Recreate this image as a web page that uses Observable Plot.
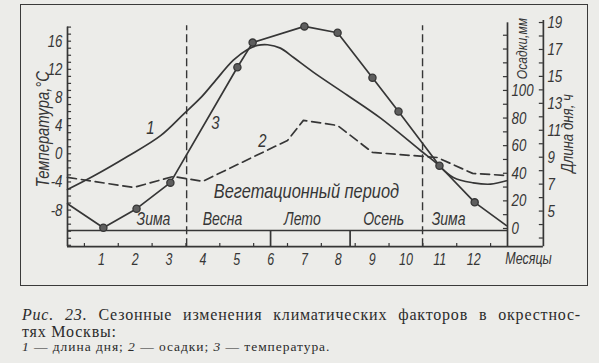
<!DOCTYPE html>
<html><head><meta charset="utf-8">
<script src="https://cdn.jsdelivr.net/npm/d3@7"></script>
<script src="https://cdn.jsdelivr.net/npm/@observablehq/plot@0.6"></script>
<style>
html,body{margin:0;padding:0;background:#ecece9;}
#wrap{position:relative;width:599px;height:363px;overflow:hidden;background:#ecece9;}
#chart{position:absolute;left:0;top:0;}
#frame{position:absolute;left:20px;top:4px;width:568px;height:282px;border:1.5px solid #3a3a3a;box-sizing:border-box;pointer-events:none;}
.cap{position:absolute;left:22px;font-family:"Liberation Serif","DejaVu Serif",serif;color:#2b2b2b;white-space:nowrap;}
#c1{top:306.6px;width:559px;font-size:16px;line-height:16px;letter-spacing:0.8px;text-align:justify;text-align-last:justify;white-space:normal;}
#c2{top:323.6px;font-size:16px;line-height:16px;letter-spacing:0.8px;}
#c3{top:339.8px;font-size:13.5px;line-height:13.5px;letter-spacing:0.95px;}
</style></head><body>
<div id="wrap">
<div id="chart"></div>
<div id="frame"></div>
<div class="cap" id="c1"><i>Рис. 23.</i> Сезонные изменения климатических факторов в окрестнос-</div>
<div class="cap" id="c2">тях Москвы:</div>
<div class="cap" id="c3"><i>1</i> — длина дня; <i>2</i> — осадки; <i>3</i> — температура.</div>
</div>
<script>
// ---- data (x = position along the month axis, month m centred at m) ----
const months = [1,2,3,4,5,6,7,8,9,10,11,12];
const monthLabels = ["1","2","3","4","5","6","7","8","9","10","11","12"];

// 3 — temperature, °C
const tempX = [0, 1.06, 2.04, 3.04, 5.02, 5.47, 7.0, 7.98, 9.01, 9.78, 10.99, 12.03, 12.97];
const tempC = [-7.1, -10.5, -7.8, -4.1, 12.3, 15.8, 18.1, 17.2, 10.8, 6.0, -1.7, -6.9, -10.2];
const tempDot = [0,1,1,1,1,1,1,1,1,1,1,1,0];

// 1 — day length, h
const dayX = [0, 0.77, 1.77, 2.75, 3.43, 3.93, 4.31, 4.9, 5.32, 5.61, 5.91, 6.29, 6.68, 7.27, 8.27, 9.25, 10.43, 10.81, 11.4, 11.99, 12.5, 12.97];
const dayH = [6.6, 7.6, 9.05, 10.6, 12.2, 13.4, 14.5, 16.2, 17.0, 17.3, 17.35, 17.1, 16.4, 15.3, 13.6, 11.9, 9.5, 8.75, 7.5, 7.1, 7.0, 7.25];

// 2 — precipitation, mm
const precX = [0, 1.95, 3.13, 3.99, 6.5, 6.97, 7.98, 9.01, 10.93, 11.97, 12.97];
const precMM = [37, 29.7, 37.7, 34.1, 63.8, 78.3, 74.6, 55.1, 51.4, 39.9, 38.4];

// axes
const tempTicks = [16, 12, 8, 4, 0, -4, -8];
const precTicks = [0, 20, 40, 60, 80, 100];
const dayTicks = [5, 7, 9, 11, 13, 15, 17, 19];

// seasons
const seasonNames = ["Зима", "Весна", "Лето", "Осень", "Зима"];
const seasonAt = [2.54, 4.58, 6.94, 9.34, 11.26];
const seasonBreaks = [6.0, 8.35];
const vegBreaks = [3.52, 10.49];

// ---- secondary axes expressed on the temperature scale ----
const precY = p => -10.61 + 0.1961 * p;
const dayY = h => -8.14 + 1.9136 * (h - 5);

const ink = "#363636";
const sw = 1.7;
const font = '"Liberation Sans","DejaVu Sans",sans-serif';
const yMin = -13.2, yMax = 18;
const xDay = 14.06, xPrec = 13;
const bandTop = -10.9;
const tk = 0.12;

const temp = tempX.map((x, i) => ({x, y: tempC[i], dot: tempDot[i]}));
const day = dayX.map((x, i) => ({x, y: dayY(dayH[i])}));
const prec = precX.map((x, i) => ({x, y: precY(precMM[i])}));

const T = {fill: ink, fontStyle: "italic"};

const chart = Plot.plot({
  width: 599, height: 290,
  marginLeft: 67, marginRight: 92, marginTop: 26.6, marginBottom: 43.8,
  x: {domain: [0, 13]},
  y: {domain: [yMin, yMax]},
  style: {background: "transparent", fontFamily: font, fontStyle: "italic", fontSize: "15px", color: ink, overflow: "visible"},
  marks: [
    Plot.ruleX([0], {y1: yMin, y2: yMax, stroke: ink, strokeWidth: sw}),
    Plot.ruleX([xPrec], {y1: yMin, y2: precY(149), stroke: ink, strokeWidth: sw}),
    Plot.ruleX([xDay], {y1: yMin, y2: dayY(19.15), stroke: ink, strokeWidth: sw}),
    Plot.ruleY([yMin], {x1: 0, x2: xDay, stroke: ink, strokeWidth: sw}),
    Plot.ruleY([bandTop], {x1: 0, x2: xPrec, stroke: ink, strokeWidth: sw}),
    Plot.ruleX(seasonBreaks, {y1: yMin, y2: bandTop, stroke: ink, strokeWidth: sw}),
    Plot.ruleX(vegBreaks, {y1: yMin, y2: 18.2, stroke: ink, strokeWidth: 1.4, strokeDasharray: "8,4"}),
    Plot.ruleY(d3.range(-13, 19), {x1: 0, x2: tk, stroke: ink, strokeWidth: 1.2}),
    Plot.ruleY(d3.range(0, 150, 10).map(precY), {x1: xPrec - tk, x2: xPrec, stroke: ink, strokeWidth: 1.2}),
    Plot.ruleY(d3.range(3, 20).map(dayY), {x1: xDay - tk, x2: xDay, stroke: ink, strokeWidth: 1.2}),
    Plot.ruleX(d3.range(0.5, 13, 1), {y1: yMin, y2: yMin + 0.45, stroke: ink, strokeWidth: 1.2}),
    Plot.axisY(tempTicks, {anchor: "left", tickSize: 0, tickPadding: 5, tickFormat: d => String(d), label: null, fontSize: 17, fill: ink}),
    Plot.axisX(months, {anchor: "bottom", tickSize: 0, tickPadding: 7, tickFormat: (d, i) => monthLabels[i], label: null, fontSize: 16, fill: ink}),
    Plot.text(precTicks, {x: xPrec, y: precY, text: d => String(d), textAnchor: "start", dx: 4, fontSize: 17, ...T}),
    Plot.text(dayTicks, {x: xDay, y: dayY, text: d => String(d), textAnchor: "start", dx: 4, fontSize: 17, ...T}),
    Plot.text(["Месяцы"], {x: 13.62, y: yMin, dy: 12, fontSize: 16, ...T}),
    Plot.text(["Температура,°С"], {x: -0.74, y: 3.5, rotate: -90, fontSize: 19, ...T}),
    Plot.text(["Осадки,мм"], {x: 13.44, y: 14.95, rotate: -90, fontSize: 15.5, ...T}),
    Plot.text(["Длина дня, ч"], {x: 14.77, y: 2.9, rotate: -90, fontSize: 17, ...T}),
    Plot.line(day, {x: "x", y: "y", curve: "catmull-rom", stroke: ink, strokeWidth: sw}),
    Plot.line(prec, {x: "x", y: "y", stroke: ink, strokeWidth: sw, strokeDasharray: "9,5"}),
    Plot.line(temp, {x: "x", y: "y", stroke: ink, strokeWidth: sw}),
    Plot.dot(temp.filter(d => d.dot), {x: "x", y: "y", r: 3.6, fill: "#5e5e5e", stroke: ink, strokeWidth: 1.3}),
    Plot.text(["1", "3", "2"], {x: [2.45, 4.37, 5.76], y: [3.74, 4.43, 1.89], fontSize: 19, ...T}),
    Plot.text(["Вегетационный период"], {x: 7.06, y: -5.3, fontSize: 21, ...T}),
    Plot.text(seasonNames, {x: (d, i) => seasonAt[i], y: bandTop, dy: -11, fontSize: 18, ...T})
  ]
});
document.getElementById("chart").appendChild(chart);

// narrow the lettering to imitate the condensed drafting italic of the original
d3.select(chart).selectAll("text").each(function() {
  const w = this.getComputedTextLength();
  if (w > 0) {
    this.setAttribute("lengthAdjust", "spacingAndGlyphs");
    this.setAttribute("textLength", (w * 0.78).toFixed(1));
  }
});
</script>
</body></html>
